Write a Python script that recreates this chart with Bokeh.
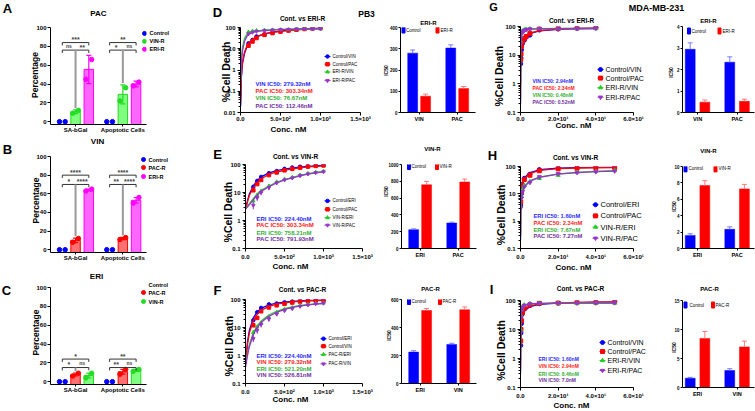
import math
from bokeh.plotting import figure
from bokeh.layouts import row, column
from bokeh.models import Range1d, FixedTicker, Label
from bokeh.core.properties import value
from bokeh.embed import file_html
from bokeh.resources import INLINE

FONT = "Liberation Sans"

# ======================= DATA =======================
left_groups = ["SA-bGal", "Apoptotic Cells"]

A_names = ["Control", "VIN-R", "ERI-R"]
A_ctrl_pts = [[0, 0], [0, 0]]
A_s2_pts = [[9, 12], [22, 36]]
A_s3_pts = [[45, 66], [38, 42]]
A_s2_mean = [10.5, 29.0]
A_s3_mean = [55.5, 40.0]
A_s2_err = [2, 10]
A_s3_err = [15, 3]
A_top_sig = ["***", "**"]
A_low_sig = [["ns", "**"], ["*", "ns"]]

B_names = ["Control", "PAC-R", "ERI-R"]
B_ctrl_pts = [[0, 0], [0, 0]]
B_s2_pts = [[8, 12], [11, 13]]
B_s3_pts = [[63, 65], [50, 56]]
B_s2_mean = [10.0, 12.0]
B_s3_mean = [64.0, 53.0]
B_s2_err = [2.5, 1.2]
B_s3_err = [1.0, 3.0]
B_top_sig = ["****", "****"]
B_low_sig = [["*", "****"], ["**", "****"]]

C_names = ["Control", "PAC-R", "VIN-R"]
C_ctrl_pts = [[0, 0], [0, 0]]
C_s2_pts = [[6, 9], [8, 13]]
C_s3_pts = [[4, 9], [11, 13]]
C_s2_mean = [7.5, 10.5]
C_s3_mean = [6.5, 12.0]
C_s2_err = [1.5, 2.5]
C_s3_err = [2.5, 1.0]
C_top_sig = ["*", "**"]
C_low_sig = [["*", "ns"], ["**", "ns"]]

# PB3 dose-response (nM, % cell death)
pb3_x = [100, 150, 200, 300, 400, 500, 600, 700, 800, 900, 1000]
D_fit_x = [2, 10, 25, 50, 75, 100, 150, 200, 300, 400, 500, 600, 700, 800, 900, 1000]
D_ctrl_vin = [18, 26, 38, 48, 57, 66, 75, 82, 88, 94, 98]
D_ctrl_pac = [14, 22, 32, 45, 55, 64, 72, 79, 85, 90, 94]
D_res_vin = [62, 68, 72, 76, 79, 81, 83, 85, 86, 87, 88]
D_res_pac = [50, 60, 66, 72, 76, 79, 82, 84, 85, 86, 87]
D_fit_ctrl_vin = [0.02, 0.4, 2, 6, 11, 17, 27, 36, 50, 60, 68, 75, 81, 86, 91, 95]
D_fit_ctrl_pac = [0.03, 0.5, 2.5, 7, 12, 18, 28, 37, 50, 59, 66, 72, 77, 82, 86, 90]
D_fit_res_vin = [0.3, 3, 12, 30, 45, 55, 65, 70, 76, 79, 81, 83, 84, 85, 86, 86]
D_fit_res_pac = [0.2, 2, 8, 22, 35, 46, 58, 65, 72, 76, 79, 81, 83, 84, 85, 86]

EF_fit_x = [2, 25, 50, 100, 150, 200, 300, 400, 500, 600, 700, 800, 900, 1000]
E_ctrl_eri = [16, 26, 36, 49, 58, 70, 78, 85, 88, 93, 97]
E_ctrl_pac = [12, 20, 28, 42, 52, 62, 70, 77, 84, 89, 93]
E_res_eri = [5, 8, 11, 17, 24, 30, 35, 42, 48, 53, 58]
E_res_pac = [3.5, 6.5, 10, 15, 22, 28, 33, 40, 46, 51, 55]
E_res_eri_err = [1, 1.5, 2, 3, 3, 4, 4, 5, 5, 5, 5]
E_res_pac_err = [1, 1.5, 2, 3, 3, 4, 4, 5, 5, 5, 5]
E_fit_ctrl_eri = [2.6, 5, 9, 17, 27, 36, 50, 60, 68, 75, 81, 86, 90, 94]
E_fit_ctrl_pac = [2.6, 4.5, 8, 15, 23, 31, 44, 54, 62, 70, 76, 82, 86, 90]
E_fit_res_eri = [2.6, 3.2, 4, 6, 9, 12, 17, 23, 29, 35, 41, 47, 52, 57]
E_fit_res_pac = [2.6, 3.0, 3.7, 5.5, 8, 11, 16, 22, 28, 33, 39, 45, 50, 55]

F_ctrl_eri = [18, 35, 50, 67, 72, 79, 86, 90, 93, 94, 97]
F_ctrl_vin = [12, 22, 38, 52, 62, 70, 78, 84, 88, 92, 96]
F_res_eri = [6.6, 10.5, 14, 23, 35, 45, 51, 61, 66, 72, 75]
F_res_vin = [4, 8, 13, 20, 30, 40, 47, 57, 64, 70, 74]
F_res_eri_err = [1.5, 2, 3, 4, 4, 5, 5, 5, 5, 5, 5]
F_res_vin_err = [1, 2, 3, 4, 4, 5, 5, 5, 5, 5, 5]
F_fit_ctrl_eri = [0.5, 3, 8, 22, 36, 48, 64, 74, 81, 86, 89, 92, 94, 96]
F_fit_ctrl_vin = [0.5, 2.5, 6.5, 18, 30, 41, 57, 68, 76, 82, 86, 89, 92, 94]
F_fit_res_eri = [0.45, 1.2, 2.5, 6.5, 11.5, 17, 28, 38, 47, 55, 61, 66, 70, 74]
F_fit_res_vin = [0.4, 1.0, 2.1, 5.5, 10, 15, 25, 35, 44, 52, 58, 64, 68, 72]

# MDA-MB-231 dose-response
G_x = [0.1, 0.25, 0.5, 1, 2, 3, 5, 10, 20, 30, 40]
G_ctrl_vin = [5, 8, 15, 25, 33, 42, 50, 75, 81, 86, 92]
G_ctrl_pac = [7, 11, 20, 30, 38, 45, 58, 82, 86, 90, 92]
G_res_vin = [30, 45, 60, 70, 76, 80, 84, 86, 85, 84, 85]
G_res_pac = [25, 40, 55, 66, 72, 78, 82, 85, 86, 85, 86]
G_fit_x = [0.01, 0.1, 0.25, 0.5, 1, 2, 3, 5, 10, 20, 30, 40]
G_fit_ctrl_vin = [0.2, 4, 9, 16, 25, 36, 45, 56, 70, 80, 84, 86]
G_fit_ctrl_pac = [0.3, 5, 11, 19, 29, 40, 48, 59, 72, 81, 85, 87]
G_fit_res_vin = [1, 28, 46, 60, 70, 77, 80, 82, 84, 85, 85, 85]
G_fit_res_pac = [1, 24, 42, 56, 67, 75, 78, 81, 83, 84, 85, 85]

H_x = [0.1, 0.5, 1, 2, 5, 10, 20, 30, 40, 50]
H_ctrl_eri = [3.8, 10, 22, 37, 52, 77, 88, 92, 95, 100]
H_ctrl_pac = [5, 12, 20, 33, 48, 70, 82, 87, 90, 92]
H_res_eri = [3.5, 8, 14, 20, 28, 37, 48, 61, 66, 72]
H_res_pac = [3, 7, 12, 18, 26, 42, 55, 60, 64, 68]
H_fit_x = [0.01, 0.1, 0.5, 1, 2, 5, 10, 20, 30, 40, 50]
H_fit_ctrl_eri = [0.2, 4, 14, 24, 38, 60, 76, 87, 91, 93, 95]
H_fit_ctrl_pac = [0.3, 4.5, 14, 23, 35, 55, 72, 84, 88, 90, 91]
H_fit_res_eri = [0.3, 3, 8, 12, 19, 30, 41, 54, 61, 66, 70]
H_fit_res_pac = [0.3, 2.8, 7.5, 11, 18, 29, 40, 53, 60, 65, 68]

I_x = [0.1, 0.25, 0.5, 1, 2, 5, 10, 20, 30, 40, 50]
I_ctrl_vin = [2.8, 7.6, 16, 35, 52, 67, 77, 83, 85, 87, 92]
I_ctrl_pac = [4, 10, 20, 38, 55, 70, 80, 82, 85, 87, 90]
I_res_vin = [10, 30, 50, 62, 70, 78, 82, 80, 80, 82, 82]
I_res_pac = [8, 25, 45, 58, 68, 76, 80, 80, 81, 82, 83]
I_fit_x = [0.01, 0.1, 0.25, 0.5, 1, 2, 5, 10, 20, 30, 40, 50]
I_fit_ctrl_vin = [0.3, 3, 7, 14, 26, 42, 62, 74, 82, 85, 87, 88]
I_fit_ctrl_pac = [0.4, 4, 9, 17, 30, 46, 65, 76, 83, 86, 88, 89]
I_fit_res_vin = [1, 12, 28, 45, 60, 71, 78, 80, 81, 81, 82, 82]
I_fit_res_pac = [0.8, 10, 24, 40, 56, 68, 76, 79, 80, 81, 81, 82]

# IC50 bar charts
D_bar_cats = ["VIN", "PAC"]
D_bar_ctrl = [279.32, 303.34]
D_bar_ctrl_err = [15, 15]
D_bar_res = [76.67, 112.46]
D_bar_res_err = [10, 10]
E_bar_cats = ["ERI", "PAC"]
E_bar_ctrl = [224.40, 303.34]
E_bar_ctrl_err = [10, 10]
E_bar_res = [758.21, 791.93]
E_bar_res_err = [40, 35]
F_bar_cats = ["ERI", "VIN"]
F_bar_ctrl = [224.40, 279.32]
F_bar_ctrl_err = [10, 8]
F_bar_res = [521.20, 526.81]
F_bar_res_err = [15, 20]
G_bar_cats = ["VIN", "PAC"]
G_bar_ctrl = [2.94, 2.34]
G_bar_ctrl_err = [0.3, 0.25]
G_bar_res = [0.48, 0.52]
G_bar_res_err = [0.1, 0.1]
H_bar_cats = ["ERI", "PAC"]
H_bar_ctrl = [1.60, 2.34]
H_bar_ctrl_err = [0.2, 0.3]
H_bar_res = [7.67, 7.27]
H_bar_res_err = [0.6, 0.55]
I_bar_cats = ["ERI", "VIN"]
I_bar_ctrl = [1.60, 2.94]
I_bar_ctrl_err = [0.15, 0.3]
I_bar_res = [8.46, 7.0]
I_bar_res_err = [1.2, 1.0]

pb3_xticks = [0, 500, 1000, 1500]
pb3_xlabels = ["0.0", "5.0×10²", "1.0×10³", "1.5×10³"]
mda_xticks = [0, 20, 40, 60]
mda_xlabels = ["0.0", "2.0×10¹", "4.0×10¹", "6.0×10¹"]
log4_ticks = [0.01, 0.1, 1, 10, 100]
log4_labels = ["0.01", "0.1", "1", "10", "100"]
log3_ticks = [0.1, 1, 10, 100]
log3_labels = ["0.1", "1", "10", "100"]

# ======================= STYLE =======================
BLUE = "#0000ff"
RED = "#ff0000"
GREEN = "#22cc22"
PURPLE = "#9933cc"
BLUE_T = "#2a2aff"
RED_T = "#ff1a1a"
GREEN_T = "#33b033"
PURPLE_T = "#7030a0"


class Panel:
    """A figure whose plotting frame sits at given pixel bounds of the page."""

    def __init__(self, cell, frame, xr, yr, log=False, axes=True):
        x0, y0, x1, y1 = cell
        fl, ft, fr, fb = [int(round(v)) for v in frame]
        self.fl, self.ft, self.fr, self.fb = fl, ft, fr, fb
        self.xr, self.yr, self.log = xr, yr, log
        kw = {}
        if not axes:
            kw = dict(x_axis_location=None, y_axis_location=None)
        self.p = figure(width=x1 - x0, height=y1 - y0,
                        x_range=Range1d(*xr), y_range=Range1d(*yr),
                        y_axis_type="log" if log else "linear",
                        output_backend="svg", toolbar_location=None, title=None,
                        min_border_left=fl - x0, min_border_right=x1 - fr,
                        min_border_top=ft - y0, min_border_bottom=y1 - fb, **kw)
        p = self.p
        p.outline_line_color = None
        p.grid.visible = False
        p.background_fill_color = "white"
        p.border_fill_color = "white"

    def to_data(self, px, py):
        fx = (px - self.fl) / (self.fr - self.fl)
        fy = (self.fb - py) / (self.fb - self.ft)
        dx = self.xr[0] + fx * (self.xr[1] - self.xr[0])
        if self.log:
            a, b = math.log10(self.yr[0]), math.log10(self.yr[1])
            dy = 10 ** (a + fy * (b - a))
        else:
            dy = self.yr[0] + fy * (self.yr[1] - self.yr[0])
        return dx, dy

    def text(self, px, py, txt, size, color="black", bold=True, align="center",
             baseline="middle", angle=0.0):
        dx, dy = self.to_data(px, py)
        self.p.text(x=[dx], y=[dy], text=[txt], angle=angle, text_font=value(FONT),
                    text_font_size=value(f"{size}px"),
                    text_font_style=value("bold" if bold else "normal"),
                    text_color=color, text_align=value(align), text_baseline=value(baseline),
                    level="overlay")


def style_axis(ax, size, tick_out=3, standoff=2):
    ax.axis_line_color = "black"
    ax.axis_line_width = 1
    ax.major_tick_line_color = "black"
    ax.major_tick_in = 0
    ax.major_tick_out = tick_out
    ax.minor_tick_line_color = "black"
    ax.minor_tick_in = 0
    ax.minor_tick_out = max(1, tick_out - 1)
    ax.major_label_text_font = FONT
    ax.major_label_text_font_size = f"{size}px"
    ax.major_label_text_font_style = "bold"
    ax.major_label_text_color = "black"
    ax.major_label_standoff = standoff


# ======================= LEFT PANELS =======================
def left_panel(cell, fl, ft, fr, f0, names, cols, fills, ctrl_pts, s2_pts, s3_pts, s2_mean, s3_mean,
               s2_err, s3_err, top_sig, low_sig, top_h, low_h, title, title_xy, letter, letter_xy,
               ylab_xy, leg_x, leg_rows):
    ppu = (f0 - ft) / 100.0
    fb = f0 + 3 * ppu
    P = Panel(cell, (fl, ft, fr, fb), (-0.53, 1.5), (-3, 100))
    p = P.p
    offs = [-0.28, 0.0, 0.28]
    dx = 0.06
    gx = [0, 1]
    for k, (mean, err) in enumerate([(s2_mean, s2_err), (s3_mean, s3_err)], start=1):
        xs = [g + offs[k] for g in gx]
        p.vbar(x=xs, top=mean, bottom=-3, width=0.2, fill_color=fills[k], line_color=cols[k], line_width=1)
        lo = [m - e for m, e in zip(mean, err)]
        hi = [m + e for m, e in zip(mean, err)]
        p.segment(x0=xs, y0=lo, x1=xs, y1=hi, line_color=cols[k], line_width=1.2)
        p.scatter(xs + xs, lo + hi, marker="dash", size=5, line_color=cols[k], line_width=1.2)
    for k, pts in enumerate([ctrl_pts, s2_pts, s3_pts]):
        xs, ys = [], []
        for g, vals in zip(gx, pts):
            xs += [g + offs[k] - dx, g + offs[k] + dx]
            ys += list(vals)
        p.scatter(xs, ys, marker="circle", size=4.5, fill_color=cols[k], line_color=cols[k])
    for g in gx:
        xl, xm, xr = g + offs[0], g + offs[1], g + offs[2]
        p.line([xl, xl, xr, xr], [top_h - 3, top_h, top_h, top_h - 3], line_color="#333333", line_width=1)
        p.line([xl, xl, xr, xr], [low_h - 3, low_h, low_h, low_h - 3], line_color="#333333", line_width=1)
        mid_bot = s2_mean[g] + s2_err[g] + 2
        p.line([xm, xm], [low_h, mid_bot], line_color="#999999", line_width=2)
        for txt, xc, yh in [(top_sig[g], (xl + xr) / 2, top_h), (low_sig[g][0], (xl + xm) / 2, low_h),
                            (low_sig[g][1], (xm + xr) / 2, low_h)]:
            star = txt != "ns"
            p.add_layout(Label(x=xc, y=yh + (1.0 if star else 1.5), text=txt, text_font=FONT,
                               text_font_size="7px" if star else "5px", text_font_style="bold",
                               text_align="center", text_baseline="middle" if star else "bottom",
                               y_offset=2 if star else 0))
    style_axis(p.xaxis[0], 6, tick_out=2, standoff=0)
    p.xaxis[0].ticker = FixedTicker(ticks=gx)
    p.xaxis[0].major_label_overrides = {0: left_groups[0], 1: left_groups[1]}
    style_axis(p.yaxis[0], 6, tick_out=3, standoff=1)
    p.yaxis[0].ticker = FixedTicker(ticks=[0, 20, 40, 60, 80, 100])
    P.text(letter_xy[0], letter_xy[1], letter, 13)
    P.text(title_xy[0], title_xy[1], title, 8)
    P.text(ylab_xy[0], ylab_xy[1], "Percentage", 8.5, angle=math.pi / 2)
    for nm, col, ry in zip(names, cols, leg_rows):
        mx, my = P.to_data(leg_x, ry)
        p.scatter([mx], [my], marker="circle", size=4, fill_color=col, line_color=col)
        P.text(leg_x + 5, ry, nm, 5.5, align="left")
    return p


figA = left_panel((0, 0, 208, 135), 50, 27, 146, 122, A_names, [BLUE, "#22dd22", "#ff00ff"],
                  [None, "#80ff80", "#ff66ff"], A_ctrl_pts, A_s2_pts, A_s3_pts, A_s2_mean, A_s3_mean,
                  A_s2_err, A_s3_err, A_top_sig, A_low_sig, 84, 76, "PAC", (98, 13), "A", (7, 8),
                  (34, 75), 144, [33, 41, 49])
figB = left_panel((0, 135, 208, 270), 50, 156, 146, 249, B_names, [BLUE, RED, "#ff00ff"],
                  [None, "#ff7070", "#ff66ff"], B_ctrl_pts, B_s2_pts, B_s3_pts, B_s2_mean, B_s3_mean,
                  B_s2_err, B_s3_err, B_top_sig, B_low_sig, 80, 70, "VIN", (97, 141), "B", (7, 149),
                  (35, 200), 143, [159, 167, 176])
figC = left_panel((0, 270, 208, 411), 50, 287, 146, 381, C_names, [BLUE, RED, "#22dd22"],
                  [None, "#ff7070", "#80ff80"], C_ctrl_pts, C_s2_pts, C_s3_pts, C_s2_mean, C_s3_mean,
                  C_s2_err, C_s3_err, C_top_sig, C_low_sig, 24, 15, "ERI", (96, 276), "C", (6, 290),
                  (35, 332), 143, [284, 292, 301])


# ======================= CURVE PANELS =======================
def curve_panel(cell, frame, xr, yr, xt, xtl, yt, ytl, series, title, title_xy, letter, letter_xy,
                ylab_xy, xlab_xy, ic50, ic50_x, ic50_ys, ic50_font, leg_x, leg_rows, leg_font,
                leg_gw, msize, xstand=2):
    P = Panel(cell, frame, xr, yr, log=True)
    p = P.p
    for (lab, col, mk, xp, yp, xf, yf, err) in series:
        p.line(xf, yf, line_color=col, line_width=1.3)
        if err is not None:
            p.segment(x0=xp, y0=[a - b for a, b in zip(yp, err)], x1=xp,
                      y1=[a + b for a, b in zip(yp, err)], line_color=col, line_width=1)
        p.scatter(xp, yp, marker=mk, size=msize, fill_color=col, line_color=col)
    style_axis(p.xaxis[0], 6, tick_out=3, standoff=xstand)
    p.xaxis[0].ticker = FixedTicker(ticks=xt)
    p.xaxis[0].major_label_overrides = dict(zip(xt, xtl))
    style_axis(p.yaxis[0], 6, tick_out=3, standoff=2)
    minors = [d * m for d in yt[:-1] for m in range(2, 10)]
    p.yaxis[0].ticker = FixedTicker(ticks=yt, minor_ticks=minors)
    p.yaxis[0].major_label_overrides = dict(zip(yt, ytl))
    if letter:
        P.text(letter_xy[0], letter_xy[1], letter, 13)
    P.text(title_xy[0], title_xy[1], title, 6.5)
    P.text(ylab_xy[0], ylab_xy[1], "%Cell Death", 10.5, angle=math.pi / 2)
    P.text(xlab_xy[0], xlab_xy[1], "Conc. nM", 8)
    for (txt, col), yy in zip(ic50, ic50_ys):
        P.text(ic50_x, yy, txt, ic50_font, color=col, align="left")
    for (lab, col, mk, *_), ry in zip(series, leg_rows):
        ax, ay = P.to_data(leg_x - leg_gw / 2, ry)
        bx, _ = P.to_data(leg_x + leg_gw / 2, ry)
        mx, _ = P.to_data(leg_x, ry)
        p.line([ax, bx], [ay, ay], line_color=col, line_width=1)
        p.scatter([mx], [ay], marker=mk, size=msize, fill_color=col, line_color=col)
        P.text(leg_x + leg_gw / 2 + 2, ry, lab, leg_font, bold=False, align="left")
    return P


cD = curve_panel((208, 0, 377, 138), (240, 24, 360, 112), (0, 1500), (0.01, 100), pb3_xticks, pb3_xlabels,
                 log4_ticks, log4_labels,
                 [("Control/VIN", BLUE, "circle", pb3_x, D_ctrl_vin, D_fit_x, D_fit_ctrl_vin, None),
                  ("Control/PAC", RED, "square", pb3_x, D_ctrl_pac, D_fit_x, D_fit_ctrl_pac, None),
                  ("ERI-R/VIN", GREEN, "triangle", pb3_x, D_res_vin, D_fit_x, D_fit_res_vin, None),
                  ("ERI-R/PAC", PURPLE, "inverted_triangle", pb3_x, D_res_pac, D_fit_x, D_fit_res_pac, None)],
                 "Cont. vs ERI-R", (302, 15), "D", (217, 8), (225, 70), (288, 130),
                 [("VIN IC50: 279.32nM", BLUE_T), ("PAC IC50: 303.34nM", RED_T),
                  ("VIN IC50: 76.67nM", GREEN_T), ("PAC IC50: 112.46nM", PURPLE_T)],
                 255, [83, 90, 97, 105], 6, 327, [54, 62, 70, 79], 4.5, 6, 3.5, xstand=0)
cD.text(366, 10, "PB3", 8.5)

cE = curve_panel((208, 138, 377, 276), (245, 159, 362, 249), (0, 1500), (0.1, 100), pb3_xticks, pb3_xlabels,
                 log3_ticks, log3_labels,
                 [("Control/ERI", BLUE, "circle", pb3_x, E_ctrl_eri, EF_fit_x, E_fit_ctrl_eri, None),
                  ("Control/PAC", RED, "square", pb3_x, E_ctrl_pac, EF_fit_x, E_fit_ctrl_pac, None),
                  ("VIN-R/ERI", GREEN, "triangle", pb3_x, E_res_eri, EF_fit_x, E_fit_res_eri, E_res_eri_err),
                  ("VIN-R/PAC", PURPLE, "inverted_triangle", pb3_x, E_res_pac, EF_fit_x, E_fit_res_pac, E_res_pac_err)],
                 "Cont. vs VIN-R", (295, 150), "E", (217, 148), (227, 210), (290, 268),
                 [("ERI IC50: 224.40nM", BLUE_T), ("PAC IC50: 303.34nM", RED_T),
                  ("ERI IC50: 758.21nM", GREEN_T), ("PAC IC50: 791.93nM", PURPLE_T)],
                 256, [217, 224, 232, 239], 6, 327, [198, 207, 216, 224], 4.5, 6, 3.5)

cF = curve_panel((208, 276, 377, 411), (245, 298, 362, 388), (0, 1500), (0.1, 100), pb3_xticks, pb3_xlabels,
                 log3_ticks, log3_labels,
                 [("Control/ERI", BLUE, "circle", pb3_x, F_ctrl_eri, EF_fit_x, F_fit_ctrl_eri, None),
                  ("Control/VIN", RED, "square", pb3_x, F_ctrl_vin, EF_fit_x, F_fit_ctrl_vin, None),
                  ("PAC-R/ERI", GREEN, "triangle", pb3_x, F_res_eri, EF_fit_x, F_fit_res_eri, F_res_eri_err),
                  ("PAC-R/VIN", PURPLE, "inverted_triangle", pb3_x, F_res_vin, EF_fit_x, F_fit_res_vin, F_res_vin_err)],
                 "Cont. vs PAC-R", (302, 287), "F", (217, 288), (228, 348), (290, 405),
                 [("ERI IC50: 224.40nM", BLUE_T), ("VIN IC50: 279.32nM", RED_T),
                  ("ERI IC50: 521.20nM", GREEN_T), ("VIN IC50: 526.81nM", PURPLE_T)],
                 256, [358, 364.5, 372, 379], 6, 323, [340, 348, 357, 367], 4.5, 6, 3.5)

cG = curve_panel((486, 13, 660, 138), (520, 23, 633, 113), (0, 60), (0.1, 100), mda_xticks, mda_xlabels,
                 log3_ticks, log3_labels,
                 [("Control/VIN", BLUE, "circle", G_x, G_ctrl_vin, G_fit_x, G_fit_ctrl_vin, None),
                  ("Control/PAC", RED, "square", G_x, G_ctrl_pac, G_fit_x, G_fit_ctrl_pac, None),
                  ("ERI-R/VIN", GREEN, "triangle", G_x, G_res_vin, G_fit_x, G_fit_res_vin, None),
                  ("ERI-R/PAC", PURPLE, "inverted_triangle", G_x, G_res_pac, G_fit_x, G_fit_res_pac, None)],
                 "Cont. vs ERI-R", (571, 16.5), None, None, (498, 75), (573, 127),
                 [("VIN IC50: 2.94nM", BLUE_T), ("PAC IC50: 2.34nM", RED_T),
                  ("VIN IC50: 0.48nM", GREEN_T), ("PAC IC50: 0.52nM", PURPLE_T)],
                 532, [80, 87, 95, 102], 5, 600, [68, 77, 87, 97], 7, 6, 4, xstand=0)

cH = curve_panel((486, 138, 660, 276), (520, 160, 633, 248), (0, 60), (0.1, 100), mda_xticks, mda_xlabels,
                 log3_ticks, log3_labels,
                 [("Control/ERI", BLUE, "circle", H_x, H_ctrl_eri, H_fit_x, H_fit_ctrl_eri, None),
                  ("Control/PAC", RED, "square", H_x, H_ctrl_pac, H_fit_x, H_fit_ctrl_pac, None),
                  ("VIN-R/ERI", GREEN, "triangle", H_x, H_res_eri, H_fit_x, H_fit_res_eri, None),
                  ("VIN-R/PAC", PURPLE, "inverted_triangle", H_x, H_res_pac, H_fit_x, H_fit_res_pac, None)],
                 "Cont. vs VIN-R", (575, 150), "H", (492, 148), (500, 212), (573, 268),
                 [("ERI IC50: 1.60nM", BLUE_T), ("PAC IC50: 2.34nM", RED_T),
                  ("ERI IC50: 7.67nM", GREEN_T), ("PAC IC50: 7.27nM", PURPLE_T)],
                 533, [213, 221, 228, 235], 5.8, 595, [201, 213, 225, 237], 7.5, 6, 4)

cI = curve_panel((486, 276, 660, 411), (520, 300, 633, 387), (0, 60), (0.1, 100), mda_xticks, mda_xlabels,
                 log3_ticks, log3_labels,
                 [("Control/VIN", BLUE, "circle", I_x, I_ctrl_vin, I_fit_x, I_fit_ctrl_vin, None),
                  ("Control/PAC", RED, "square", I_x, I_ctrl_pac, I_fit_x, I_fit_ctrl_pac, None),
                  ("ERI-R/VIN", GREEN, "triangle", I_x, I_res_vin, I_fit_x, I_fit_res_vin, None),
                  ("ERI-R/PAC", PURPLE, "inverted_triangle", I_x, I_res_pac, I_fit_x, I_fit_res_pac, None)],
                 "Cont. vs PAC-R", (580, 288), "I", (491, 289), (500, 350), (571, 405),
                 [("ERI IC50: 1.60nM", BLUE_T), ("VIN IC50: 2.94nM", RED_T),
                  ("ERI IC50: 8.46nM", GREEN_T), ("VIN IC50: 7.0nM", PURPLE_T)],
                 538, [358, 365, 373, 379], 5, 602, [342, 351, 360, 370], 7, 6, 4)


# ======================= BAR PANELS =======================
def bar_panel(cell, frame, xr, yr, yt, cats, ctrl, ctrl_err, res, res_err, res_name, off, bw,
              title, title_xy, ylab_xy, leg_sq, leg_txt, leg_y):
    P = Panel(cell, frame, xr, yr)
    p = P.p
    gx = list(range(len(cats)))
    xc = [g - off for g in gx]
    xrr = [g + off for g in gx]
    p.vbar(x=xc, top=ctrl, bottom=0, width=bw, fill_color=BLUE, line_color=BLUE, line_width=0.5)
    p.vbar(x=xrr, top=res, bottom=0, width=bw, fill_color=RED, line_color=RED, line_width=0.5)
    for xs, v, e, c in [(xc, ctrl, ctrl_err, "#7a7aff"), (xrr, res, res_err, "#ff7a7a")]:
        hi = [a + b for a, b in zip(v, e)]
        p.segment(x0=xs, y0=v, x1=xs, y1=hi, line_color=c, line_width=1)
        p.scatter(xs, hi, marker="dash", size=5, line_color=c, line_width=1)
    style_axis(p.xaxis[0], 5.5, tick_out=2, standoff=1)
    p.xaxis[0].ticker = FixedTicker(ticks=gx)
    p.xaxis[0].major_label_overrides = dict(zip(gx, cats))
    style_axis(p.yaxis[0], 4.5, tick_out=2, standoff=1)
    p.yaxis[0].ticker = FixedTicker(ticks=yt)
    P.text(title_xy[0], title_xy[1], title, 6)
    P.text(ylab_xy[0], ylab_xy[1], "IC50", 5, angle=math.pi / 2)
    for nm, col, sx, tx in [("Control", BLUE, leg_sq[0], leg_txt[0]), (res_name, RED, leg_sq[1], leg_txt[1])]:
        qx, qy = P.to_data(sx, leg_y)
        p.rect([qx], [qy], width=3, height=6, width_units="screen", height_units="screen",
               fill_color=col, line_color=col)
        P.text(tx, leg_y, nm, 4.5, bold=False, align="left")
    return p


bD = bar_panel((377, 0, 486, 138), (400, 27, 475, 112), (-0.49, 1.48), (0, 400), [0, 100, 200, 300, 400],
               D_bar_cats, D_bar_ctrl, D_bar_ctrl_err, D_bar_res, D_bar_res_err, "ERI-R", 0.17, 0.26,
               "ERI-R", (428, 22), (385, 70), (403, 437), (405.5, 440), 29.5)
bE = bar_panel((377, 138, 486, 276), (401, 164, 476, 248), (-0.49, 1.48), (0, 1000),
               [0, 200, 400, 600, 800, 1000],
               E_bar_cats, E_bar_ctrl, E_bar_ctrl_err, E_bar_res, E_bar_res_err, "VIN-R", 0.17, 0.26,
               "VIN-R", (432, 148), (385, 191), (408.5, 436.5), (411, 439), 166)
bF = bar_panel((377, 276, 486, 411), (401, 299, 476, 383), (-0.49, 1.48), (0, 600), [0, 200, 400, 600],
               F_bar_cats, F_bar_ctrl, F_bar_ctrl_err, F_bar_res, F_bar_res_err, "PAC-R", 0.17, 0.26,
               "PAC-R", (430, 288), (388, 335), (408.5, 439.5), (411, 442), 301)
bG = bar_panel((660, 13, 755, 138), (682, 26, 754, 112), (-0.38, 1.44), (0, 4), [0, 1, 2, 3, 4],
               G_bar_cats, G_bar_ctrl, G_bar_ctrl_err, G_bar_res, G_bar_res_err, "ERI-R", 0.185, 0.25,
               "ERI-R", (708, 20), (670, 72), (688.5, 719), (691, 722), 30.5)
bH = bar_panel((660, 138, 755, 276), (682, 166, 754, 252), (-0.38, 1.44), (0, 10), [0, 2, 4, 6, 8, 10],
               H_bar_cats, H_bar_ctrl, H_bar_ctrl_err, H_bar_res, H_bar_res_err, "VIN-R", 0.185, 0.25,
               "VIN-R", (708, 150), (673, 208), (685, 715), (688, 718), 168.5)
bI = bar_panel((660, 276, 755, 411), (682, 300, 754, 387), (-0.38, 1.44), (0, 15), [0, 5, 10, 15],
               I_bar_cats, I_bar_ctrl, I_bar_ctrl_err, I_bar_res, I_bar_res_err, "PAC-R", 0.185, 0.25,
               "PAC-R", (709, 288), (673, 347), (685, 712.5), (689, 715), 304.5)

# header strip of the right column (panel letter and cell line)
hdr = Panel((486, 0, 755, 13), (486, 0, 755, 13), (0, 1), (0, 1), axes=False)
hdr.text(493, 6.5, "G", 11)
hdr.text(656, 7, "MDA-MB-231", 9)

left_col = column(figA, figB, figC, spacing=0)
mid_col = column(row(cD.p, bD, spacing=0), row(cE.p, bE, spacing=0), row(cF.p, bF, spacing=0),
                 spacing=0)
right_col = column(hdr.p, row(cG.p, bG, spacing=0), row(cH.p, bH, spacing=0),
                   row(cI.p, bI, spacing=0), spacing=0)
root = row(left_col, mid_col, right_col, spacing=0)

open("out.html", "w").write(file_html(root, INLINE))
